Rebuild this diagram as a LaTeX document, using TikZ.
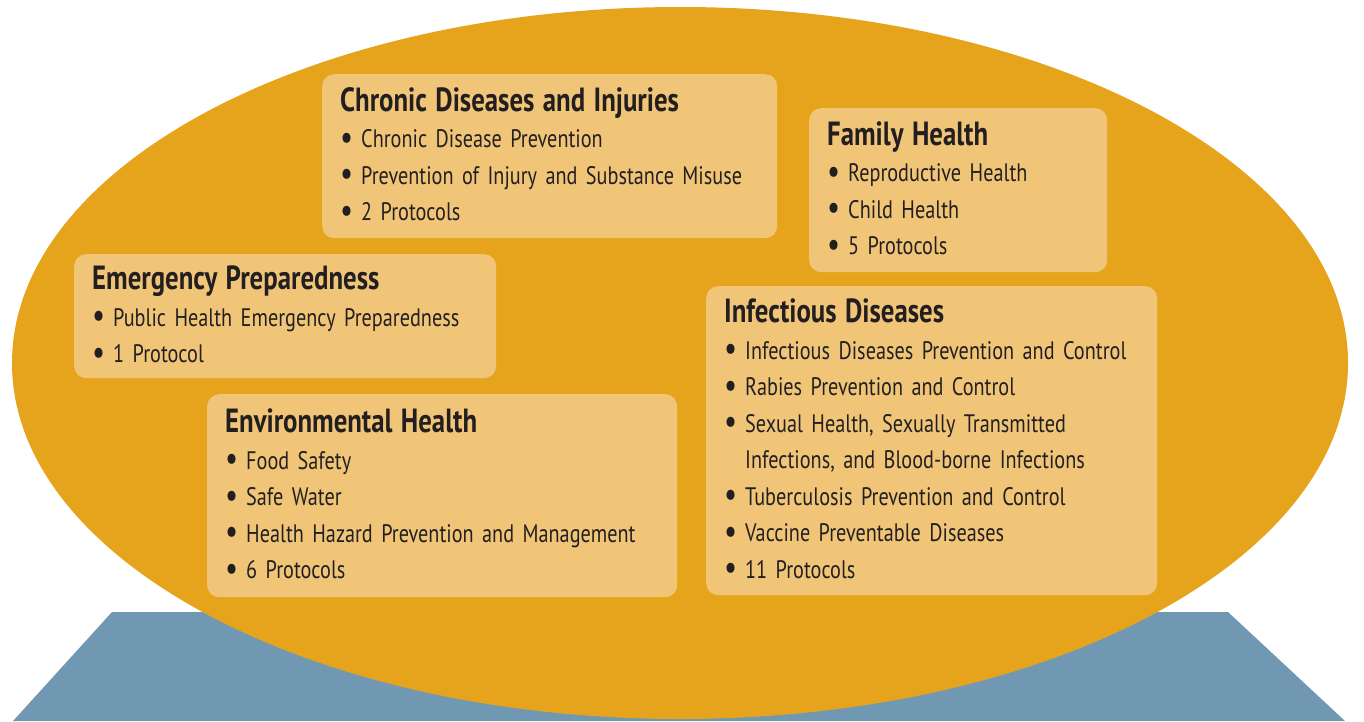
\documentclass[tikz,border=0pt]{standalone}
\usepackage{fontspec}
\setmainfont{PT Sans}[FakeStretch=0.8]
\usetikzlibrary{positioning}
\definecolor{ovalorange}{RGB}{230,163,28}
\definecolor{boxsand}{RGB}{240,197,120}
\definecolor{baseblue}{RGB}{113,152,178}
\definecolor{inkgray}{RGB}{35,31,32}
\tikzset{
TOPIC/.style={fill=boxsand, rounded corners=12pt, anchor=north west, align=left,
  inner xsep=18pt, inner ysep=0pt, text=inkgray,
  font=\fontsize{25.3}{36.5}\selectfont},
}
\newcommand{\hd}[1]{{\fontsize{33.5}{36.5}\selectfont\bfseries #1}}
\newcommand{\itm}{\makebox[21pt][l]{\raisebox{-1.5pt}{\fontsize{36}{0}\selectfont\textbullet}}}
\newcommand{\cont}{\makebox[21pt]{}}
\newcommand{\lift}{\rule[-4pt]{0pt}{0pt}}

\begin{document}
\begin{tikzpicture}[x=1pt, y=-1pt] % health topic areas
	\useasboundingbox (0,0) rectangle (1364,721);
	\fill[baseblue] (112,612) -- (1228,612) -- (1345,721) -- (13,721) -- cycle;
	\fill[ovalorange] (680,363) ellipse [x radius=668, y radius=356];
	\node[TOPIC, text width=419pt, minimum width=455pt, minimum height=164pt] (chronic) at (322,74) {
		\hd{Chronic Diseases and Injuries}\\
		\itm Chronic Disease Prevention\\
		\itm Prevention of Injury and Substance Misuse\\
		\itm 2 Protocols\lift};
	\node[TOPIC, text width=262pt, minimum width=298pt, minimum height=164pt] (family) at (809,108) {
		\hd{Family Health}\\
		\itm Reproductive Health\\
		\itm Child Health\\
		\itm 5 Protocols\lift};
	\node[TOPIC, text width=386pt, minimum width=422pt, minimum height=124pt] (emergency) at (74,254) {
		\hd{Emergency Preparedness}\\
		\itm Public Health Emergency Preparedness\\
		\itm 1 Protocol\lift};
	\node[TOPIC, text width=434pt, minimum width=470pt, minimum height=203pt] (environ) at (207,394) {
		\hd{Environmental Health}\\
		\itm Food Safety\\
		\itm Safe Water\\
		\itm Health Hazard Prevention and Management\\
		\itm 6 Protocols\lift};
	\node[TOPIC, text width=415pt, minimum width=451pt, minimum height=309pt] (infect) at (706,286) {
		\hd{Infectious Diseases}\\
		\itm Infectious Diseases Prevention and Control\\
		\itm Rabies Prevention and Control\\
		\itm Sexual Health, Sexually Transmitted\\
		\cont Infections, and Blood-borne Infections\\
		\itm Tuberculosis Prevention and Control\\
		\itm Vaccine Preventable Diseases\\
		\itm 11 Protocols\lift};
\end{tikzpicture}
\end{document}
